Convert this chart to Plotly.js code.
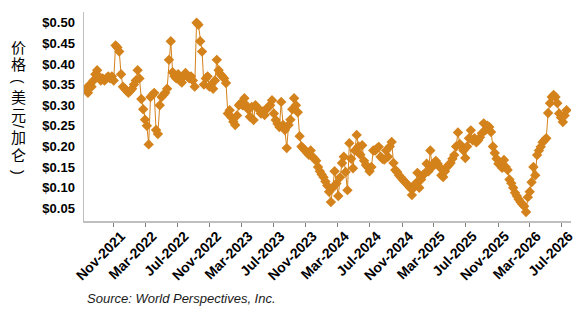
<!DOCTYPE html>
<html>
<head>
<meta charset="utf-8">
<script src="https://cdn.plot.ly/plotly-3.0.1.min.js"></script>
<style>
  html, body { margin: 0; padding: 0; background: #fff; }
  #chart { width: 578px; height: 317px; }
</style>
</head>
<body>
<div id="chart"></div>
<script>
// Weekly price series, USD per gallon, first observation on startWeek
const startWeek = '2021-07-18';
const weeklyPrice = [
  0.340, 0.330, 0.350, 0.345, 0.360, 0.375, 0.385, 0.370, 0.360, 0.365,
  0.360, 0.365, 0.370, 0.365, 0.370, 0.360, 0.445, 0.440, 0.430, 0.375,
  0.345, 0.340, 0.335, 0.330, 0.335, 0.340, 0.350, 0.360, 0.385, 0.365,
  0.315, 0.290, 0.265, 0.250, 0.205, 0.320, 0.325, 0.330, 0.240, 0.230,
  0.300, 0.320, 0.325, 0.330, 0.340, 0.410, 0.455, 0.380, 0.370, 0.365, 0.375,
  0.360, 0.355, 0.370, 0.378, 0.370, 0.365, 0.370, 0.360, 0.345, 0.500,
  0.495, 0.455, 0.430, 0.350, 0.365, 0.370, 0.345, 0.350, 0.340, 0.360,
  0.410, 0.385, 0.375, 0.370, 0.365, 0.354, 0.280, 0.288, 0.270, 0.260,
  0.252, 0.275, 0.300, 0.305, 0.300, 0.317, 0.300, 0.290, 0.272, 0.296,
  0.264, 0.300, 0.293, 0.290, 0.280, 0.285, 0.276, 0.290, 0.296, 0.300,
  0.312, 0.280, 0.264, 0.255, 0.247, 0.308, 0.252, 0.240, 0.196, 0.252,
  0.265, 0.290, 0.317, 0.300, 0.283, 0.225, 0.200, 0.195, 0.190, 0.185,
  0.180, 0.190, 0.175, 0.170, 0.165, 0.150, 0.140, 0.132, 0.125, 0.115, 0.105,
  0.090, 0.065, 0.100, 0.140, 0.110, 0.080, 0.125, 0.160, 0.175, 0.138,
  0.094, 0.208, 0.170, 0.147, 0.190, 0.228, 0.200, 0.180, 0.203, 0.165,
  0.155, 0.150, 0.140, 0.150, 0.190, 0.190, 0.195, 0.199, 0.175, 0.170,
  0.168, 0.190, 0.175, 0.200, 0.211, 0.160, 0.143, 0.138, 0.130, 0.125,
  0.120, 0.115, 0.110, 0.105, 0.100, 0.082, 0.100, 0.110, 0.136, 0.100,
  0.120, 0.130, 0.135, 0.158, 0.140, 0.190, 0.150, 0.160, 0.165, 0.158,
  0.150, 0.130, 0.126, 0.140, 0.150, 0.155, 0.160, 0.170, 0.179, 0.200,
  0.234, 0.206, 0.200, 0.190, 0.172, 0.200, 0.220, 0.239, 0.215, 0.220,
  0.210, 0.215, 0.222, 0.232, 0.256, 0.240, 0.250, 0.247, 0.235, 0.200, 0.184,
  0.170, 0.158, 0.160, 0.148, 0.167, 0.150, 0.143, 0.120, 0.111, 0.100,
  0.088, 0.080, 0.072, 0.065, 0.060, 0.055, 0.041, 0.077, 0.090, 0.113,
  0.150, 0.130, 0.179, 0.190, 0.199, 0.210, 0.215, 0.220, 0.281, 0.305,
  0.320, 0.325, 0.320, 0.305, 0.280, 0.270, 0.259, 0.275, 0.288
];

// Axis ticks
const xTickDates = ['2021-11-01', '2022-03-01', '2022-07-01', '2022-11-01', '2023-03-01',
  '2023-07-01', '2023-11-01', '2024-03-01', '2024-07-01', '2024-11-01', '2025-03-01',
  '2025-07-01', '2025-11-01', '2026-03-01', '2026-07-01'];
const xTickLabels = ['Nov-2021', 'Mar-2022', 'Jul-2022', 'Nov-2022', 'Mar-2023',
  'Jul-2023', 'Nov-2023', 'Mar-2024', 'Jul-2024', 'Nov-2024', 'Mar-2025',
  'Jul-2025', 'Nov-2025', 'Mar-2026', 'Jul-2026'];
const yTickValues = [0.05, 0.10, 0.15, 0.20, 0.25, 0.30, 0.35, 0.40, 0.45, 0.50];
const yTickLabels = ['$0.05', '$0.10', '$0.15', '$0.20', '$0.25', '$0.30', '$0.35', '$0.40', '$0.45', '$0.50'];

// Vertical axis title, one glyph per row; brackets and slash are turned a quarter turn
const yTitleGlyphs = ['价', '格', '(', '美', '元', '/', '加', '仑', ')'];
const yTitleRows   = [47, 64.5, 81, 97, 115, 126, 137.5, 155, 172];
const sourceNote = 'Source: World Perspectives, Inc.';

// Build the weekly date axis
function weekDates(start, n) {
  const out = [];
  const t0 = Date.parse(start + 'T00:00:00Z');
  for (let i = 0; i < n; i++) {
    out.push(new Date(t0 + i * 7 * 86400000).toISOString().slice(0, 10));
  }
  return out;
}
const weeks = weekDates(startWeek, weeklyPrice.length);

const colour = '#D4821B';
const W = 578, H = 317;
const M = { l: 84, r: 7, t: 12, b: 96 };

const trace = {
  type: 'scatter',
  mode: 'lines+markers',
  x: weeks,
  y: weeklyPrice,
  line: { color: colour, width: 1 },
  marker: { symbol: 'diamond', size: 8, color: colour, line: { width: 0 } },
  hoverinfo: 'x+y'
};

const yTickFont = { family: 'Liberation Sans, Arial, sans-serif', size: 13, color: '#000', weight: 'bold' };
const xTickFont = { family: 'Liberation Sans, Arial, sans-serif', size: 14, color: '#000', weight: 'bold' };

const annotations = yTitleGlyphs.map((g, i) => {
  const turned = (g === '(' || g === ')' || g === '/');
  return {
    xref: 'paper', yref: 'paper',
    x: (18 - M.l) / (W - M.l - M.r),
    y: 1 - (yTitleRows[i] - M.t) / (H - M.t - M.b),
    xanchor: 'center', yanchor: 'middle',
    text: g,
    textangle: turned ? 90 : 0,
    borderpad: 0,
    showarrow: false,
    font: {
      family: 'Liberation Sans, Noto Sans CJK SC, sans-serif',
      size: turned ? 14 : 15,
      color: '#000'
    }
  };
});

annotations.push({
  xref: 'paper', yref: 'paper',
  x: (85 - M.l) / (W - M.l - M.r),
  y: 1 - (298 - M.t) / (H - M.t - M.b),
  xanchor: 'left', yanchor: 'middle',
  text: sourceNote,
  showarrow: false,
  font: { family: 'Liberation Sans, Arial, sans-serif', size: 13, color: '#1a1a1a', style: 'italic' }
});

const layout = {
  width: W, height: H,
  margin: M,
  paper_bgcolor: '#fff',
  plot_bgcolor: '#fff',
  showlegend: false,
  xaxis: {
    type: 'date',
    range: ['2021-07-10', '2026-08-05'],
    tickvals: xTickDates,
    ticktext: xTickLabels,
    tickangle: -45,
    tickfont: xTickFont,
    ticklabelshift: 7,
    ticklabelstandoff: -4,
    ticklabeloverflow: 'allow',
    ticks: 'outside', ticklen: 4, tickwidth: 1, tickcolor: '#808080',
    showline: true, linecolor: '#bfbfbf', linewidth: 1.5,
    showgrid: false, zeroline: false
  },
  yaxis: {
    range: [0.0192, 0.526],
    tickvals: yTickValues,
    ticktext: yTickLabels,
    tickfont: yTickFont,
    ticks: 'outside', ticklen: 5, tickcolor: 'rgba(0,0,0,0)',
    showline: true, linecolor: '#bfbfbf', linewidth: 1.5,
    showgrid: false, zeroline: false
  },
  annotations: annotations
};

Plotly.newPlot('chart', [trace], layout, { displayModeBar: false, staticPlot: true });
</script>
</body>
</html>
